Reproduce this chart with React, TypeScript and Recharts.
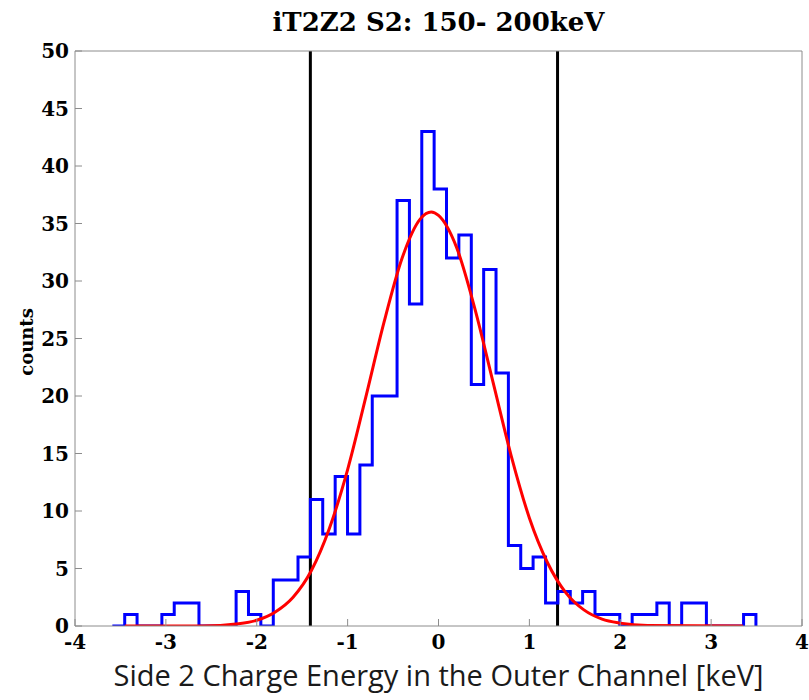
import React from 'react';
import { ComposedChart, Line, XAxis, YAxis, ReferenceLine } from 'recharts';

// Histogram bin edges (keV) and counts per bin
const binEdges = [
  -3.589, -3.453, -3.317, -3.18, -3.044, -2.908, -2.772, -2.636, -2.499, -2.363,
  -2.227, -2.091, -1.955, -1.818, -1.682, -1.546, -1.41, -1.274, -1.137, -1.001,
  -0.865, -0.729, -0.593, -0.456, -0.32, -0.184, -0.048, 0.088, 0.224, 0.361,
  0.497, 0.633, 0.769, 0.905, 1.041, 1.178, 1.314, 1.45, 1.586, 1.722,
  1.858, 1.995, 2.131, 2.267, 2.403, 2.539, 2.676, 2.812, 2.948, 3.084,
  3.22, 3.357, 3.493,
];
const binCounts = [
  0, 1, 0, 0, 1, 2, 2, 0, 0, 0,
  3, 1, 0, 4, 4, 6, 11, 8, 13, 8,
  14, 20, 20, 37, 28, 43, 38, 32, 34, 21,
  31, 22, 7, 5, 6, 2, 3, 2, 3, 1,
  1, 0, 1, 1, 2, 0, 2, 2, 0, 0,
  0, 1,
];

// Fitted curve
const fitX = [-3.45, -2.6, -2.2, -2.0, -1.8, -1.6, -1.4, -1.2, -1.0, -0.8, -0.6, -0.4, -0.2, -0.08, 0.0, 0.2, 0.4, 0.6, 0.8, 1.0, 1.2, 1.4, 1.6, 1.8, 2.0, 2.3, 3.35];
const fitY = [0, 0, 0.2, 0.5, 1.2, 2.5, 4.8, 8.5, 13.6, 19.9, 26.4, 32.0, 35.4, 36.0, 35.7, 32.9, 27.6, 21.2, 14.8, 9.4, 5.5, 2.9, 1.4, 0.6, 0.25, 0.05, 0];

const cutLines = [-1.41, 1.31];
const xTicks = [-4, -3, -2, -1, 0, 1, 2, 3, 4];
const yTicks = [0, 5, 10, 15, 20, 25, 30, 35, 40, 45, 50];

const histData = [
  ...binCounts.map((c, i) => ({ x: binEdges[i], y: c })),
  { x: binEdges[binEdges.length - 1], y: binCounts[binCounts.length - 1] },
  { x: binEdges[binEdges.length - 1], y: 0 },
];

const fitData = fitX.map((x, i) => ({ x, y: fitY[i] }));

const AXIS_GRAY = '#8c8c8c';
const tickFont = { fontFamily: 'DejaVu Serif', fontWeight: 'bold', fontSize: 20, fill: '#000' } as const;

export default function App() {
  return (
    <div style={{ position: 'absolute', left: 0, top: 0, width: 809, height: 700, background: '#fff' }}>
      <div
        style={{
          position: 'absolute', left: 75, width: 727, top: 9, textAlign: 'center',
          fontFamily: 'DejaVu Serif', fontWeight: 'bold', fontSize: 26, lineHeight: '26px', color: '#000',
        }}
      >
        iT2Z2 S2: 150- 200keV
      </div>
      <div style={{ position: 'absolute', left: 27, top: 342, width: 0, height: 0 }}>
        <div
          style={{
            position: 'absolute', left: -60, top: -10, width: 120, textAlign: 'center',
            transform: 'rotate(-90deg)',
            fontFamily: 'DejaVu Serif', fontWeight: 'bold', fontSize: 18, lineHeight: '20px', color: '#000',
          }}
        >
          counts
        </div>
      </div>
      <div
        style={{
          position: 'absolute', left: 0, width: 877, top: 661, textAlign: 'center',
          fontFamily: 'Open Sans', fontSize: 29, lineHeight: '27px', color: '#1a1a1a',
        }}
      >
        Side 2 Charge Energy in the Outer Channel [keV]
      </div>
      <ComposedChart width={809} height={700} margin={{ top: 50, right: 6, bottom: 44, left: 0 }}>
        <XAxis
          xAxisId="b"
          dataKey="x"
          type="number"
          domain={[-4, 4]}
          ticks={xTicks}
          interval={0}
          allowDataOverflow
          height={30}
          stroke={AXIS_GRAY}
          tickSize={-7}
          tickMargin={16}
          tick={tickFont}
          tickLine={{ stroke: AXIS_GRAY }}
        />
        <XAxis
          xAxisId="t"
          dataKey="x"
          orientation="top"
          type="number"
          domain={[-4, 4]}
          ticks={xTicks}
          interval={0}
          allowDataOverflow
          height={1}
          stroke={AXIS_GRAY}
          tickSize={-7}
          tick={false}
          tickLine={{ stroke: AXIS_GRAY }}
        />
        <YAxis
          yAxisId="l"
          type="number"
          domain={[0, 50]}
          ticks={yTicks}
          interval={0}
          allowDataOverflow
          width={75}
          stroke={AXIS_GRAY}
          tickSize={-7}
          tickMargin={13}
          tick={tickFont}
          tickLine={{ stroke: AXIS_GRAY }}
        />
        <YAxis
          yAxisId="r"
          orientation="right"
          type="number"
          domain={[0, 50]}
          ticks={yTicks}
          interval={0}
          allowDataOverflow
          width={1}
          stroke={AXIS_GRAY}
          tickSize={-7}
          tick={false}
          tickLine={{ stroke: AXIS_GRAY }}
        />
        {cutLines.map((v) => (
          <ReferenceLine key={v} x={v} xAxisId="b" yAxisId="l" stroke="#000" strokeWidth={3} />
        ))}
        <Line
          xAxisId="t"
          yAxisId="r"
          data={fitData}
          dataKey="y"
          stroke="none"
          dot={false}
          activeDot={false}
          legendType="none"
          isAnimationActive={false}
        />
        <Line
          xAxisId="b"
          yAxisId="l"
          data={histData}
          dataKey="y"
          type="stepAfter"
          stroke="#0000ff"
          strokeWidth={3}
          dot={false}
          activeDot={false}
          isAnimationActive={false}
        />
        <Line
          xAxisId="b"
          yAxisId="l"
          data={fitData}
          dataKey="y"
          type="monotone"
          stroke="#ff0000"
          strokeWidth={3}
          dot={false}
          activeDot={false}
          isAnimationActive={false}
        />
      </ComposedChart>
    </div>
  );
}
